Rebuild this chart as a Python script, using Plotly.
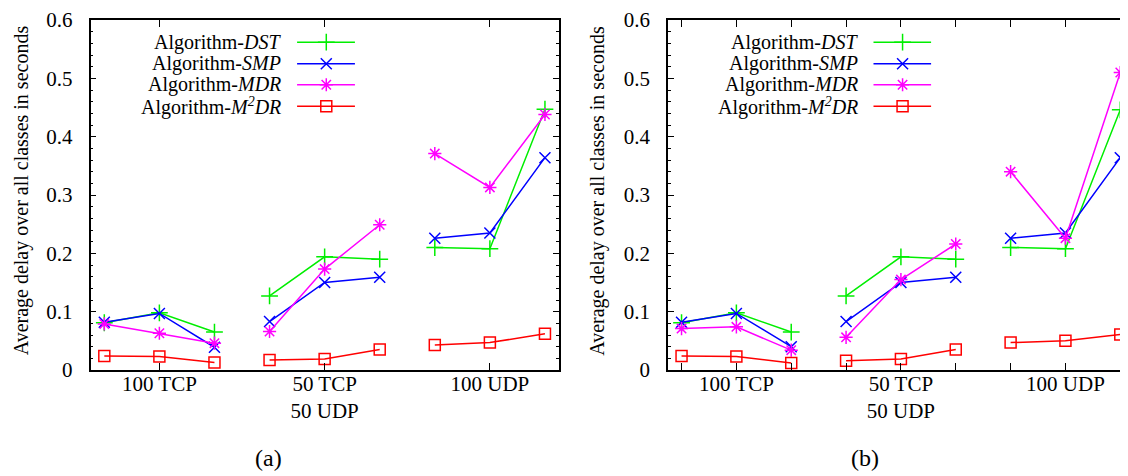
import plotly.graph_objects as go

# group labels on the x axis and the three runs inside each group
group_labels = ["100 TCP", "50 TCP<br>50 UDP", "100 UDP"]
runs_per_group = 3

algo_names = [
    "Algorithm-<i>DST</i>",
    "Algorithm-<i>SMP</i>",
    "Algorithm-<i>MDR</i>",
    "Algorithm-<i>M<sup>2</sup>DR</i>",
]

# (a) average delay values, 9 points per algorithm (3 per group)
a_dst = [0.081, 0.098, 0.065, 0.127, 0.194, 0.190, 0.210, 0.208, 0.447]
a_smp = [0.082, 0.097, 0.039, 0.083, 0.150, 0.159, 0.226, 0.235, 0.364]
a_mdr = [0.079, 0.063, 0.046, 0.066, 0.173, 0.249, 0.371, 0.313, 0.438]
a_m2dr = [0.024, 0.023, 0.013, 0.017, 0.019, 0.035, 0.043, 0.047, 0.062]

# (b)
b_dst = [0.081, 0.098, 0.065, 0.127, 0.194, 0.190, 0.210, 0.208, 0.446]
b_smp = [0.082, 0.097, 0.040, 0.083, 0.150, 0.159, 0.226, 0.235, 0.364]
b_mdr = [0.071, 0.074, 0.034, 0.056, 0.155, 0.216, 0.340, 0.226, 0.510]
b_m2dr = [0.024, 0.023, 0.012, 0.016, 0.019, 0.035, 0.047, 0.050, 0.061]

COLORS = ["#00ee00", "#0000ff", "#ff00ff", "#ff0000"]
SYMBOLS = ["cross-thin", "x-thin", "asterisk", "square-open"]
SIZES = [12, 11, 11, 11]
FONT = "Liberation Serif, Times New Roman, serif"


def with_gaps(values):
    # insert a break between the groups so lines only join runs in a group
    xs, ys = [], []
    for g in range(len(group_labels)):
        for k in range(runs_per_group):
            i = g * runs_per_group + k
            xs.append(i + 1)
            ys.append(values[i])
        xs.append(None)
        ys.append(None)
    return xs, ys


fig = go.Figure()

panels = [("x", "y", [a_dst, a_smp, a_mdr, a_m2dr]),
          ("x2", "y2", [b_dst, b_smp, b_mdr, b_m2dr])]

for xa, ya, series in panels:
    for j, vals in enumerate(series):
        xs, ys = with_gaps(vals)
        fig.add_trace(go.Scatter(
            x=xs, y=ys, xaxis=xa, yaxis=ya,
            mode="lines+markers",
            line=dict(color=COLORS[j], width=1.5),
            marker=dict(symbol=SYMBOLS[j], size=SIZES[j], color=COLORS[j],
                        line=dict(color=COLORS[j], width=1.5)),
            showlegend=False, connectgaps=False,
        ))

# hand-made legend: text on the left, sample line with marker on the right
legend_rows = [0.562, 0.525, 0.489, 0.452]
annotations = []
for xa, ya, _ in panels:
    for j, name in enumerate(algo_names):
        fig.add_trace(go.Scatter(
            x=[4.5, 5.55], y=[legend_rows[j]] * 2, xaxis=xa, yaxis=ya,
            mode="lines", line=dict(color=COLORS[j], width=1.5),
            showlegend=False, hoverinfo="skip",
        ))
        fig.add_trace(go.Scatter(
            x=[5.03], y=[legend_rows[j]], xaxis=xa, yaxis=ya,
            mode="markers",
            marker=dict(symbol=SYMBOLS[j], size=SIZES[j], color=COLORS[j],
                        line=dict(color=COLORS[j], width=1.5)),
            showlegend=False, hoverinfo="skip",
        ))
        annotations.append(dict(
            x=4.25, y=legend_rows[j], xref=xa, yref=ya,
            text=name, showarrow=False, xanchor="right", yanchor="middle",
            font=dict(family=FONT, size=20, color="black"),
        ))

# y titles and captions
for xpos, cap_x, cap in [(0.012, 0.2314, "(a)"), (0.524, 0.7615, "(b)")]:
    annotations.append(dict(
        x=xpos, y=0.512, xref="paper", yref="paper", textangle=-90,
        text="Average delay over all classes in seconds", showarrow=False,
        xanchor="center", yanchor="middle",
        font=dict(family=FONT, size=20, color="black"),
    ))
    annotations.append(dict(
        x=cap_x, y=-0.25, xref="paper", yref="paper", text=cap,
        showarrow=False, xanchor="center", yanchor="middle",
        font=dict(family=FONT, size=24, color="black"),
    ))

axis_common = dict(
    showline=True, linecolor="black", linewidth=1.5, mirror="allticks",
    ticks="inside", tickcolor="black", tickwidth=1.2,
    showgrid=False, zeroline=False,
    tickfont=dict(family=FONT, size=21, color="black"),
)

group_centres = [g * runs_per_group + 2 for g in range(len(group_labels))]
yfont = dict(family=FONT, size=21, color="black")

fig.update_layout(
    width=1128, height=476,
    margin=dict(l=0, r=0, t=12, b=113.5),
    paper_bgcolor="white", plot_bgcolor="white",
    showlegend=False,
    xaxis=dict(domain=[0.0733, 0.4891], range=[0.75, 9.25], anchor="y",
               tickvals=group_centres, ticktext=group_labels, ticklen=7,
               ticklabelstandoff=-6, **axis_common),
    xaxis2=dict(domain=[0.586, 1.0], range=[0.75, 9.25], anchor="y2",
                tickvals=group_centres, ticktext=group_labels, ticklen=7,
                ticklabelstandoff=-6,
                minor=dict(tick0=1, dtick=1, ticks="inside", ticklen=7,
                           tickcolor="black", tickwidth=1.2),
                **axis_common),
    yaxis=dict(range=[0, 0.6], dtick=0.1, anchor="x", ticklen=6,
               ticklabelstandoff=12,
               minor=dict(dtick=0.02, ticks="inside", ticklen=3,
                          tickcolor="black", tickwidth=1),
               **{**axis_common, "tickfont": yfont}),
    yaxis2=dict(range=[0, 0.6], dtick=0.1, anchor="x2", ticklen=6,
                ticklabelstandoff=12,
                minor=dict(dtick=0.02, ticks="inside", ticklen=3,
                           tickcolor="black", tickwidth=1),
                **{**axis_common, "tickfont": yfont}),
    annotations=annotations,
)

fig.write_html("out.html")
